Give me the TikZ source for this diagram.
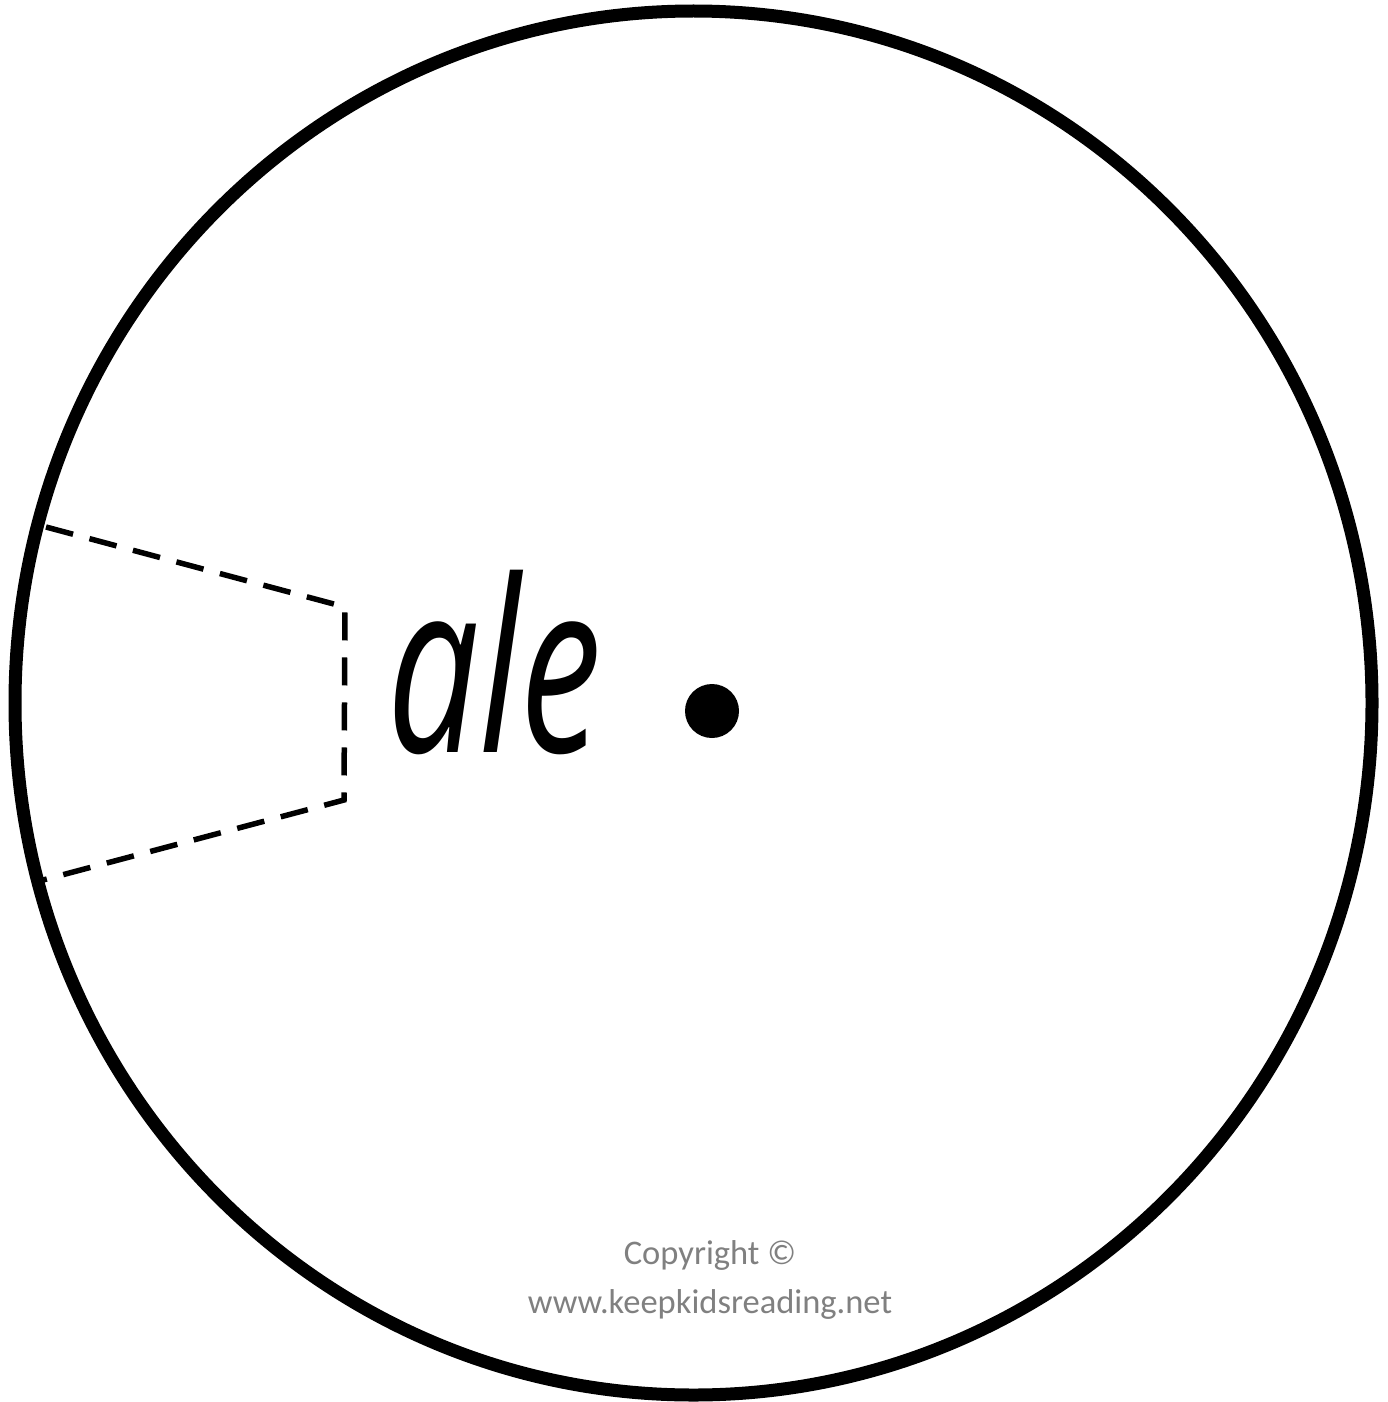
\documentclass[tikz,border=0pt]{standalone}
\usepackage{fontspec}
\newfontfamily\alefont{Open Sans}
\newfontfamily\copyfont{Carlito}
\definecolor{copygrey}{RGB}{128,128,128}
\tikzset{
  rim/.style={line width=13pt, draw=black},
  cutline/.style={line width=5.5pt, draw=black, dash pattern=on 28pt off 17pt},
  word/.style={inner sep=0pt, font=\alefont\itshape\fontsize{240}{240}\selectfont},
  copytext/.style={inner sep=0pt, text=copygrey, font=\copyfont\fontsize{34.5}{34.5}\selectfont}
}
\begin{document}
\begin{tikzpicture}[x=1pt,y=-1pt]
\useasboundingbox (0,0) rectangle (1387,1402);
\fill[white] (0,0) rectangle (1387,1402);
\draw[rim] (693.5,703) ellipse [x radius=678.5, y radius=692];
\coordinate (t1) at (46,527);
\coordinate (t2) at (345,607);
\coordinate (b2) at (344,800);
\coordinate (b1) at (43,880);
\draw[cutline] (t1) -- (t2) -- (b2) -- (b1);
\node[word, anchor=base] (ale) at (495,752) {\scalebox{0.68}[1]{ale}};
\fill (712,711) circle [radius=27];
\node[copytext, anchor=base] (c1) at (710,1264) {Copyright ©};
\node[copytext, anchor=base] (c2) at (710,1313) {www.keepkidsreading.net};
\end{tikzpicture}
\end{document}
